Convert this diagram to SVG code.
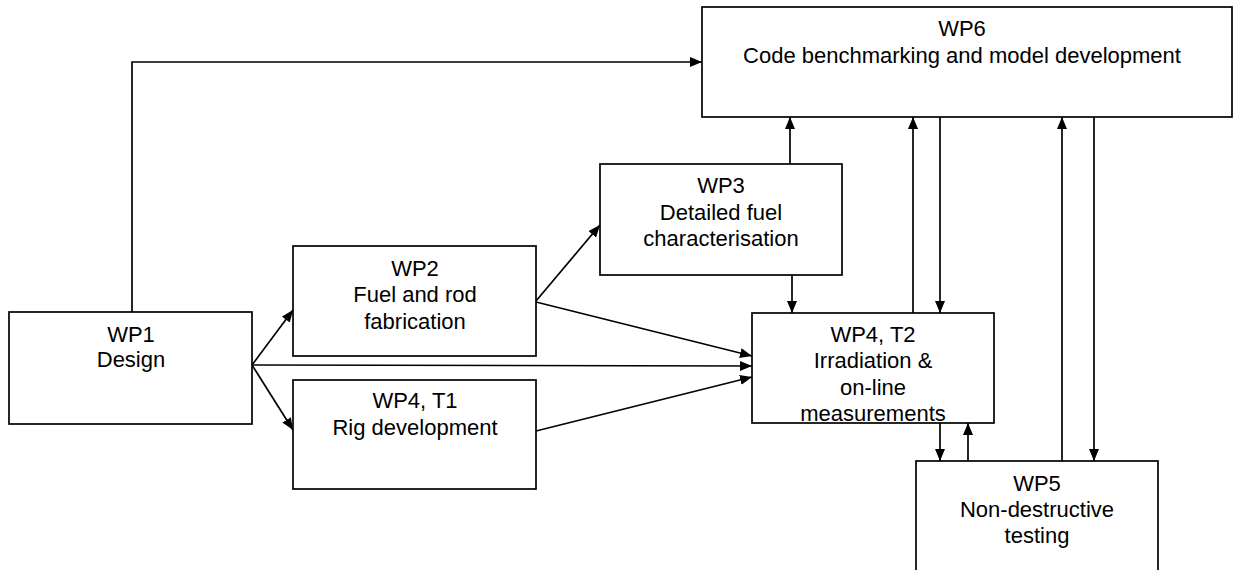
<svg xmlns="http://www.w3.org/2000/svg" width="1233" height="570" viewBox="0 0 1233 570">
<defs>
<marker id="ah" markerUnits="userSpaceOnUse" markerWidth="13" markerHeight="11" refX="12" refY="5" orient="auto">
<path d="M0,0 L12,5 L0,10 z" fill="#000"/>
</marker>
<style>
.box{fill:#fff;stroke:#000;stroke-width:1.7}
.t{font-family:"Liberation Sans",Arial,sans-serif;font-size:22px;fill:#000;text-anchor:middle}
.c{fill:none;stroke:#000;stroke-width:1.7;marker-end:url(#ah)}
</style>
</defs>
<rect width="1233" height="570" fill="#fff"/>
<g id="connectors">
<polyline class="c" points="132,312 132,62 702,62"/>
<line class="c" x1="252" y1="365" x2="293" y2="310"/>
<line class="c" x1="252" y1="365" x2="293" y2="430"/>
<line class="c" x1="252" y1="365" x2="752" y2="366"/>
<line class="c" x1="536" y1="301" x2="600" y2="225"/>
<line class="c" x1="536" y1="302" x2="752" y2="356"/>
<line class="c" x1="536" y1="431" x2="752" y2="377"/>
<line class="c" x1="790" y1="164" x2="790" y2="117"/>
<line class="c" x1="792" y1="275" x2="792" y2="313"/>
<line class="c" x1="913" y1="313" x2="913" y2="117"/>
<line class="c" x1="940" y1="117" x2="940" y2="313"/>
<line class="c" x1="940" y1="423" x2="940" y2="461"/>
<line class="c" x1="968" y1="461" x2="968" y2="423"/>
<line class="c" x1="1062" y1="461" x2="1062" y2="117"/>
<line class="c" x1="1094" y1="117" x2="1094" y2="461"/>
</g>
<g id="wp6">
<rect class="box" x="702" y="7" width="530" height="110"/>
<text class="t" x="962" y="36">WP6</text>
<text class="t" x="962" y="63">Code benchmarking and model development</text>
</g>
<g id="wp3">
<rect class="box" x="600" y="164" width="242" height="111"/>
<text class="t" x="721" y="193">WP3</text>
<text class="t" x="721" y="220">Detailed fuel</text>
<text class="t" x="721" y="246">characterisation</text>
</g>
<g id="wp1">
<rect class="box" x="9" y="312" width="243" height="112"/>
<text class="t" x="131" y="342">WP1</text>
<text class="t" x="131" y="367">Design</text>
</g>
<g id="wp2">
<rect class="box" x="293" y="246" width="243" height="110"/>
<text class="t" x="415" y="276">WP2</text>
<text class="t" x="415" y="302">Fuel and rod</text>
<text class="t" x="415" y="329">fabrication</text>
</g>
<g id="wp4t1">
<rect class="box" x="293" y="380" width="243" height="109"/>
<text class="t" x="415" y="408">WP4, T1</text>
<text class="t" x="415" y="435">Rig development</text>
</g>
<g id="wp4t2">
<rect class="box" x="752" y="313" width="242" height="110"/>
<text class="t" x="873" y="342">WP4, T2</text>
<text class="t" x="873" y="368">Irradiation &amp;</text>
<text class="t" x="873" y="395">on-line</text>
<text class="t" x="873" y="421">measurements</text>
</g>
<g id="wp5">
<rect class="box" x="916" y="461" width="242" height="112"/>
<text class="t" x="1037" y="491">WP5</text>
<text class="t" x="1037" y="517">Non-destructive</text>
<text class="t" x="1037" y="543">testing</text>
</g>
</svg>
